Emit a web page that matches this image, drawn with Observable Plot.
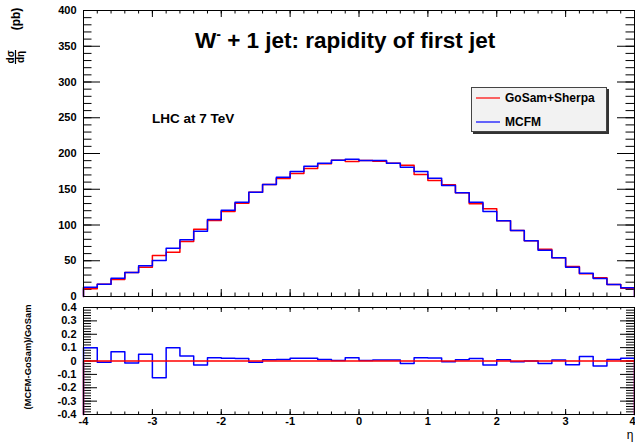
<!DOCTYPE html>
<html>
<head>
<meta charset="utf-8">
<script src="https://cdn.jsdelivr.net/npm/d3@7"></script>
<script src="https://cdn.jsdelivr.net/npm/@observablehq/plot@0.6"></script>
<style>
  html, body { margin: 0; padding: 0; background: #fff; }
  #chart { position: relative; width: 635px; height: 443px; background: #fff; overflow: hidden; }
  #chart > * { position: absolute; left: 0; }
  text { font-family: "Liberation Sans", Arial, Helvetica, sans-serif; }
</style>
</head>
<body>
<div id="chart"></div>
<script>
// ---- data ----
const etaLow = [-4.0,-3.8,-3.6,-3.4,-3.2,-3.0,-2.8,-2.6,-2.4,-2.2,-2.0,-1.8,-1.6,-1.4,-1.2,-1.0,-0.8,-0.6,-0.4,-0.2,
                 0.0, 0.2, 0.4, 0.6, 0.8, 1.0, 1.2, 1.4, 1.6, 1.8, 2.0, 2.2, 2.4, 2.6, 2.8, 3.0, 3.2, 3.4, 3.6, 3.8];
const gosamSherpa = [10.7,17.2,23.8,33.6,41.0,57.3,62.0,76.9,94.2,106.3,118.9,130.5,145.9,156.6,165.0,172.0,179.0,185.6,190.7,188.8,
                     190.2,189.3,186.5,183.7,170.6,162.2,156.2,145.0,129.6,122.6,105.8,92.3,77.9,66.2,54.1,42.0,31.7,26.1,16.8,11.6];
const mcfm = [13.0,17.2,25.6,33.6,42.9,50.3,67.6,79.3,91.4,107.7,120.7,131.9,145.9,156.6,166.9,174.8,182.3,186.5,190.7,192.0,
              190.2,190.2,186.5,180.9,174.8,165.5,155.2,145.0,131.9,118.9,105.8,92.3,77.9,64.8,54.1,41.0,32.6,25.2,16.8,12.1];
const ratioMcfm = [0.10,-0.01,0.07,-0.015,0.05,-0.125,0.10,0.038,-0.03,0.025,0.02,0.018,-0.01,0.01,0.012,0.02,0.02,0.012,0.003,0.025,
                   0.003,0.008,0.008,-0.018,0.025,0.022,-0.005,0.01,0.018,-0.03,0.01,-0.005,0.0,-0.018,0.008,-0.028,0.033,-0.038,0.012,0.02];
const ratioGosam = gosamSherpa.map(g => (g - g) / g);

const xTickLabels = [-4,-3,-2,-1,0,1,2,3,4];
const yTopTicks = [0,50,100,150,200,250,300,350,400];
const yBotTicks = [-0.4,-0.3,-0.2,-0.1,0,0.1,0.2,0.3,0.4];

const xMinor = d3.range(-40, 41, 2).map(d => d / 10);
const yTopMinor = d3.range(0, 401, 10);
const yBotMinor = d3.range(-20, 21, 1).map(d => d / 50);

// ---- helpers ----
const FONT = '"Liberation Sans", Arial, Helvetica, sans-serif';
const W = 635, ML = 83, MR = 1;
const PW = W - ML - MR;

function steps(vals, base) {
  const pts = [{x: -4, y: base}];
  vals.forEach((v, i) => pts.push({x: etaLow[i], y: v}));
  pts.push({x: 4, y: vals[vals.length - 1]});
  pts.push({x: 4, y: base});
  return pts;
}

function tickMarks(PH, yMaj, yMin, yMajLen, yMinLen, xMajLen, xMinLen) {
  return [
    Plot.ruleY(yMin, {insetRight: PW - yMinLen, stroke: "#000"}),
    Plot.ruleY(yMaj, {insetRight: PW - yMajLen, stroke: "#000"}),
    Plot.ruleY(yMin, {insetLeft: PW - yMinLen, stroke: "#000"}),
    Plot.ruleY(yMaj, {insetLeft: PW - yMajLen, stroke: "#000"}),
    Plot.ruleX(xMinor, {insetTop: PH - xMinLen, stroke: "#000"}),
    Plot.ruleX(xTickLabels, {insetTop: PH - xMajLen, stroke: "#000"}),
    Plot.ruleX(xMinor, {insetBottom: PH - xMinLen, stroke: "#000"}),
    Plot.ruleX(xTickLabels, {insetBottom: PH - xMajLen, stroke: "#000"})
  ];
}

// ---- top panel ----
const topH = 300, topMT = 10, topMB = 4;
const topPH = topH - topMT - topMB;
const topPlot = Plot.plot({
  width: W, height: topH,
  marginLeft: ML, marginRight: MR, marginTop: topMT, marginBottom: topMB,
  x: {domain: [-4, 4], axis: null},
  y: {domain: [0, 400]},
  style: {fontFamily: FONT, fontSize: "11px", fontWeight: "bold", background: "transparent", overflow: "visible"},
  marks: [
    ...tickMarks(topPH, yTopTicks, yTopMinor, 17, 8.5, 7, 3.5),
    Plot.axisY({ticks: yTopTicks, tickSize: 0, tickPadding: 7, fontSize: 11, fontWeight: "bold", label: null, tickFormat: d => String(d)}),
    Plot.line(steps(gosamSherpa, 0), {x: "x", y: "y", curve: "step-after", stroke: "#ff0000", strokeWidth: 1.5}),
    Plot.line(steps(mcfm, 0), {x: "x", y: "y", curve: "step-after", stroke: "#0000ff", strokeWidth: 1.5}),
    Plot.frame({stroke: "#000", strokeWidth: 1})
  ]
});
topPlot.style.top = "0px";

// ---- bottom panel ----
const botH = 143, botMT = 7, botMB = 29;
const botPH = botH - botMT - botMB;
const botPlot = Plot.plot({
  width: W, height: botH,
  marginLeft: ML, marginRight: MR, marginTop: botMT, marginBottom: botMB,
  x: {domain: [-4, 4]},
  y: {domain: [-0.4, 0.4]},
  style: {fontFamily: FONT, fontSize: "11px", fontWeight: "bold", background: "transparent", overflow: "visible"},
  marks: [
    ...tickMarks(botPH, yBotTicks, yBotMinor, 14, 8, 5, 2.5),
    Plot.axisY({ticks: yBotTicks, tickSize: 0, tickPadding: 7, fontSize: 11, fontWeight: "bold", label: null,
                tickFormat: d => (Math.abs(d) < 1e-9 ? "0" : d.toFixed(1))}),
    Plot.axisX({ticks: xTickLabels.slice(0, -1), tickSize: 0, tickPadding: 3, fontSize: 11, fontWeight: "bold", label: null,
                tickFormat: d => String(d)}),
    Plot.axisX({ticks: xTickLabels.slice(-1), tickSize: 0, tickPadding: 3, fontSize: 11, fontWeight: "bold", label: null,
                textAnchor: "end", dx: 1, tickFormat: d => String(d)}),
    Plot.line(steps(ratioMcfm, -0.4), {x: "x", y: "y", curve: "step-after", stroke: "#0000ff", strokeWidth: 1.5}),
    Plot.line(steps(ratioGosam, -0.4), {x: "x", y: "y", curve: "step-after", stroke: "#ff0000", strokeWidth: 1.5}),
    Plot.frame({stroke: "#000", strokeWidth: 1})
  ]
});
botPlot.style.top = "300px";

const chart = document.getElementById("chart");
chart.appendChild(topPlot);
chart.appendChild(botPlot);

// ---- annotations overlay ----
const ov = d3.create("svg")
  .attr("width", W).attr("height", 443)
  .style("top", "0px")
  .style("pointer-events", "none")
  .style("font-family", FONT)
  .style("font-weight", "bold");

// title
const title = ov.append("text").attr("x", 195).attr("y", 48).attr("font-size", 22.5).attr("fill", "#000");
title.append("tspan").text("W");
title.append("tspan").attr("dy", -9).attr("font-size", 14).text("-");
title.append("tspan").attr("dy", 9).text(" + 1 jet: rapidity of first jet");

// LHC label
ov.append("text").attr("x", 152).attr("y", 123).attr("font-size", 13.5).text("LHC at 7 TeV");

// legend
const lg = ov.append("g");
lg.append("rect").attr("x", 473).attr("y", 89).attr("width", 136).attr("height", 45).attr("fill", "#333");
lg.append("rect").attr("x", 471.5).attr("y", 87.5).attr("width", 135).attr("height", 44).attr("fill", "#f2f2f2").attr("stroke", "#444").attr("stroke-width", 1);
lg.append("line").attr("x1", 476).attr("x2", 500).attr("y1", 98).attr("y2", 98).attr("stroke", "#ff0000").attr("stroke-width", 1.2);
lg.append("text").attr("x", 505).attr("y", 102).attr("font-size", 12).text("GoSam+Sherpa");
lg.append("line").attr("x1", 476).attr("x2", 500).attr("y1", 122).attr("y2", 122).attr("stroke", "#0000ff").attr("stroke-width", 1.2);
lg.append("text").attr("x", 505).attr("y", 126).attr("font-size", 12).text("MCFM");

// top y label: dσ/dη (pb)
const yl = ov.append("g").attr("transform", "translate(15,57) rotate(-90)");
yl.append("text").attr("x", 0).attr("y", -1.5).attr("text-anchor", "middle").attr("font-size", 10).text("dσ");
yl.append("line").attr("x1", -7).attr("x2", 7).attr("y1", 0.5).attr("y2", 0.5).attr("stroke", "#000").attr("stroke-width", 1.2);
yl.append("text").attr("x", 0).attr("y", 8.5).attr("text-anchor", "middle").attr("font-size", 10).text("dη");
yl.append("text").attr("x", 38).attr("y", 4.5).attr("text-anchor", "middle").attr("font-size", 12).text("(pb)");

// bottom y label
ov.append("g").attr("transform", "translate(31,357) rotate(-90)")
  .append("text").attr("text-anchor", "middle").attr("font-size", 9.3).text("(MCFM-GoSam)/GoSam");

// x label
ov.append("text").attr("x", 630).attr("y", 439).attr("text-anchor", "middle").attr("font-size", 12).attr("font-weight", "normal").text("η");

chart.appendChild(ov.node());
</script>
</body>
</html>
